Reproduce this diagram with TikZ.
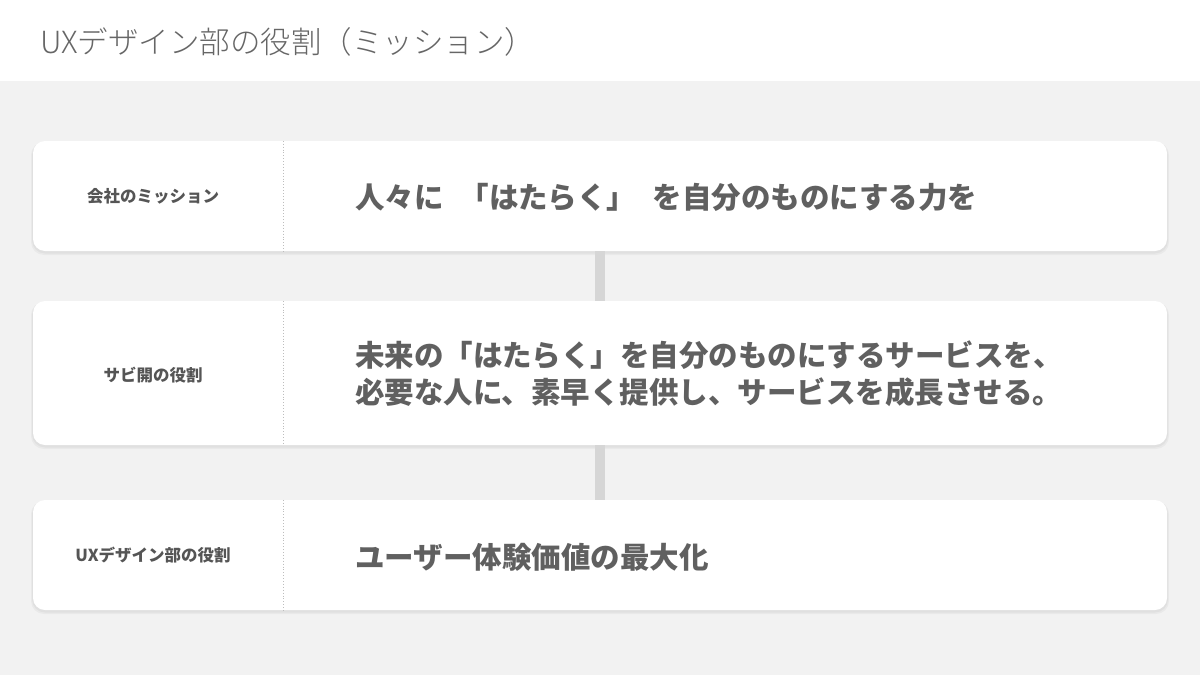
\documentclass[tikz,border=0pt]{standalone}
\usepackage{fontspec}
\setmainfont{Noto Sans CJK JP}
\newfontfamily\jpl{Noto Sans CJK JP Light}
\usetikzlibrary{calc}
\definecolor{bgc}{HTML}{F2F2F2}
\definecolor{txt}{HTML}{606060}
\definecolor{ttl}{HTML}{666666}
\definecolor{lbl}{HTML}{555555}
\definecolor{bar}{HTML}{D6D6D6}
\definecolor{dotc}{HTML}{BDBDBD}
\tikzset{
  card/.style={fill=white, rounded corners=12pt, minimum width=1134pt, inner sep=0pt, draw=none},
  shade1/.style={fill=black, opacity=0.035, rounded corners=13pt, draw=none},
  lab/.style={font=\bfseries\fontsize{16.5}{20}\selectfont, text=lbl, anchor=center},
  main/.style={font=\bfseries\fontsize{29.5}{37}\selectfont, text=txt, anchor=west, align=left, inner sep=0pt},
  link/.style={draw=bar, line width=10pt},
  sep/.style={draw=dotc, dotted, line width=0.9pt},
}
\begin{document}
\begin{tikzpicture}[x=1pt,y=-1pt]
\fill[bgc] (0,0) rectangle (1200,675);
\useasboundingbox (0,0) rectangle (1200,675);
\fill[white] (0,0) rectangle (1200,81);
\node[anchor=west, inner sep=0pt, text=ttl, font=\jpl\fontsize{30.5}{34}\selectfont] (title) at (40,42) {UXデザイン部の役割（ミッション）};
% shadows
\foreach \t/\b in {141/251, 301/445, 500/610}{
  \fill[shade1] (31,\t+1) rectangle (1169,\b+4);
  \fill[shade1] (32,\t+1) rectangle (1168,\b+2.5);
}
\node[card, minimum height=110pt] (c1) at (600,196) {};
\node[card, minimum height=144pt] (c2) at (600,373) {};
\node[card, minimum height=110pt] (c3) at (600,555) {};
\draw[link] (c1.south) -- (c2.north);
\draw[link] (c2.south) -- (c3.north);
\coordinate (sx) at (283,0);
\draw[sep] (c1.north -| sx) -- (c1.south -| sx);
\draw[sep] (c2.north -| sx) -- (c2.south -| sx);
\draw[sep] (c3.north -| sx) -- (c3.south -| sx);
\node[lab] (l1) at (153,196) {会社のミッション};
\node[lab] (l2) at (153,375) {サビ開の役割};
\node[lab] (l3) at (153,555) {UXデザイン部の役割};
\node[main] (m1) at (355,197) {人々に\hspace{0.55em}「はたらく」\hspace{0.55em}を自分のものにする力を};
\node[main] (m2) at (355,374) {未来の「はたらく」を自分のものにするサービスを、\\必要な人に、素早く提供し、サービスを成長させる。};
\node[main] (m3) at (355,557) {ユーザー体験価値の最大化};
\end{tikzpicture}
\end{document}
